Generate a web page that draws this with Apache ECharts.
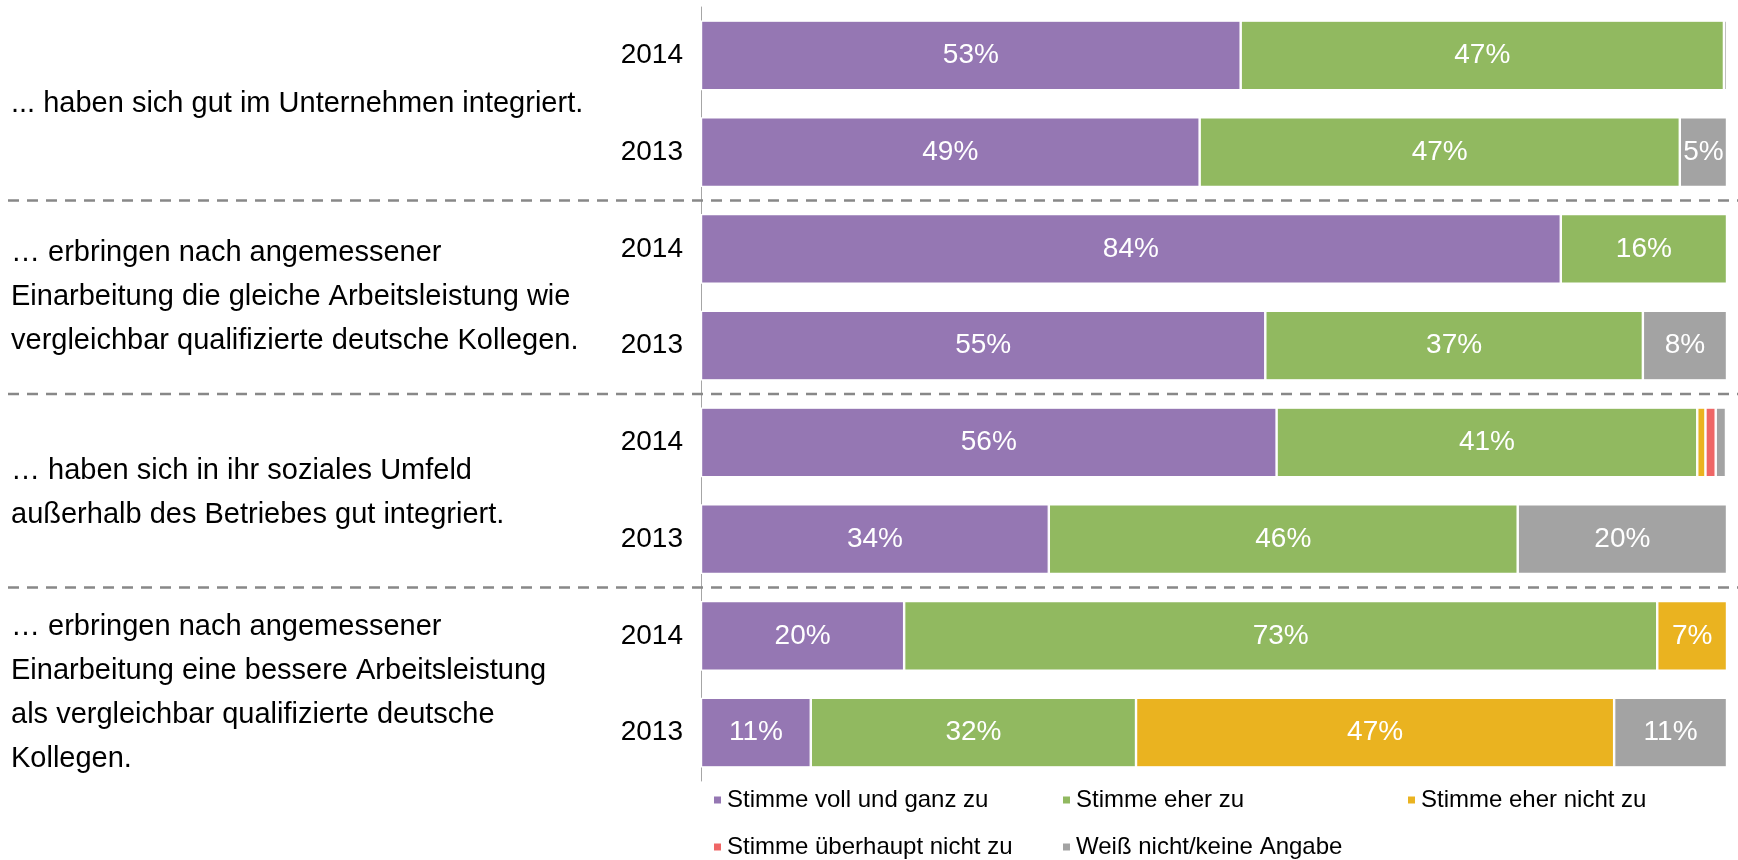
<!DOCTYPE html>
<html>
<head>
<meta charset="utf-8">
<script src="https://cdn.jsdelivr.net/npm/echarts@6/dist/echarts.min.js"></script>
<style>
  html, body { margin: 0; padding: 0; background: #fff; }
  #chart { width: 1738px; height: 860px; }
</style>
</head>
<body>
<div id="chart"></div>
<script>
// Zeilen von oben nach unten: je Aussage 2014, 2013
var years = ['2014', '2013', '2014', '2013', '2014', '2013', '2014', '2013'];
var statements = [
  '... haben sich gut im Unternehmen integriert.',
  '\u2026 erbringen nach angemessener\nEinarbeitung die gleiche Arbeitsleistung wie\nvergleichbar qualifizierte deutsche Kollegen.',
  '\u2026 haben sich in ihr soziales Umfeld\nau\u00dferhalb des Betriebes gut integriert.',
  '\u2026 erbringen nach angemessener\nEinarbeitung eine bessere Arbeitsleistung\nals vergleichbar qualifizierte deutsche\nKollegen.'
];
var seriesNames = ['Stimme voll und ganz zu', 'Stimme eher zu', 'Stimme eher nicht zu',
  'Stimme \u00fcberhaupt nicht zu', 'Wei\u00df nicht/keine Angabe'];
var seriesColors = ['#9577b3', '#91b960', '#eab320', '#ef6666', '#a3a3a3'];

var vollUndGanz = [52.6, 48.6, 83.8, 55.0, 56.1, 33.9, 19.8, 10.7];
var eherZu      = [47.1, 46.8, 16.2, 36.8, 41.0, 45.7, 73.4, 31.7];
var eherNicht   = [0, 0, 0, 0, 0.8, 0, 6.8, 46.6];
var garNicht    = [0, 0, 0, 0, 1.0, 0, 0, 0];
var weissNicht  = [0.3, 4.6, 0, 8.2, 1.0, 20.4, 0, 11.0];
var allValues = [vollUndGanz, eherZu, eherNicht, garNicht, weissNicht];

var FONT = "'Liberation Sans', Arial, sans-serif";
var categories = years.map(function (y, i) { return i + '_' + y; });

var chart = echarts.init(document.getElementById('chart'));

var series = seriesNames.map(function (name, k) {
  return {
    name: name,
    type: 'bar',
    stack: 'total',
    barWidth: '72%',
    data: allValues[k],
    itemStyle: { color: seriesColors[k], borderColor: '#fff', borderWidth: 1.2 },
    label: {
      show: true,
      position: 'inside',
      color: '#fff',
      fontFamily: FONT,
      fontSize: 28,
      formatter: function (p) { return p.value >= 3 ? Math.round(p.value) + '%' : ''; }
    },
    emphasis: { disabled: true }
  };
});

// Legende: zwei Zeilen, feste Spalten
var legendPos = [[712, 788], [1061, 788], [1406, 788], [712, 835], [1061, 835]];
var legends = seriesNames.map(function (name, k) {
  return {
    data: [name],
    left: legendPos[k][0],
    top: legendPos[k][1],
    padding: 0,
    icon: 'rect',
    itemWidth: 9,
    itemHeight: 9,
    selectedMode: false,
    textStyle: { fontFamily: FONT, fontSize: 24, color: '#000' }
  };
});

chart.setOption({
  animation: false,
  legend: legends,
  grid: { left: 701, right: 11, top: 7, bottom: 79 },
  xAxis: {
    type: 'value', min: 0, max: 100, show: false
  },
  yAxis: {
    type: 'category',
    inverse: true,
    data: categories,
    axisLine: { show: true, lineStyle: { color: '#a6a6a6', width: 1 } },
    axisTick: { show: false },
    axisLabel: {
      margin: 18,
      color: '#000',
      fontFamily: FONT,
      fontSize: 28,
      formatter: function (v, i) { return years[i]; }
    }
  },
  series: series
});

// Trennlinien und Aussagen links, Positionen aus der Achse
var textShift = [0, 0, 2, 9];
var graphics = [];
var yOf = function (i) { return chart.convertToPixel({ yAxisIndex: 0 }, categories[i]); };
statements.forEach(function (txt, g) {
  var yc = (yOf(2 * g) + yOf(2 * g + 1)) / 2 + textShift[g];
  graphics.push({
    type: 'text',
    left: 11,
    top: yc - txt.split('\n').length * 22,
    style: { text: txt, font: '29px ' + FONT, fill: '#000', lineHeight: 44 }
  });
  if (g < statements.length - 1) {
    var ys = (yOf(2 * g + 1) + yOf(2 * g + 2)) / 2;
    graphics.push({
      type: 'line',
      shape: { x1: 8, y1: ys, x2: 1738, y2: ys },
      style: { stroke: '#888', lineWidth: 2.5, lineDash: [11, 8] },
      z: 10
    });
  }
});
chart.setOption({ graphic: graphics });
</script>
</body>
</html>
